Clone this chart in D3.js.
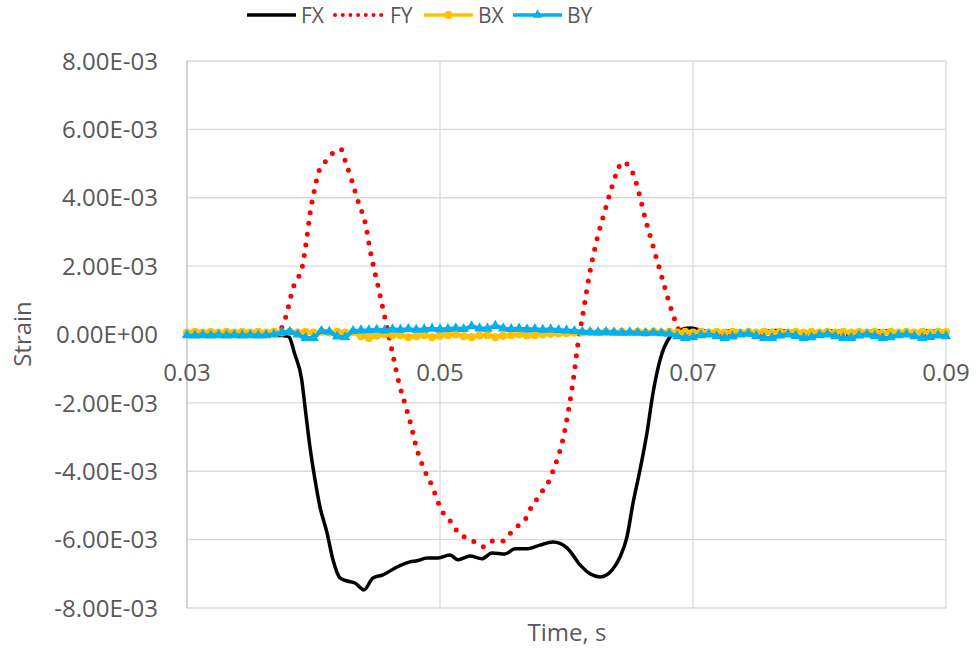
<!DOCTYPE html>
<html>
<head>
<meta charset="utf-8">
<script src="https://cdn.jsdelivr.net/npm/d3@7"></script>
<style>
  body { margin: 0; background: #fff; }
  text { font-family: "Open Sans", "Noto Sans", sans-serif; fill: #595959; }
</style>
</head>
<body>
<script>
// values are in units of 1e-3 strain (milli-strain)
var unit = 1e-3;

var xTicks = [0.03, 0.05, 0.07, 0.09];
var yTicks = [-8, -6, -4, -2, 0, 2, 4, 6, 8];

var fxT = [0.0300, 0.0340, 0.0370, 0.0380, 0.03854, 0.03907, 0.03933, 0.03972, 0.04012, 0.04051,
  0.04107, 0.04154, 0.04209, 0.04265, 0.04328, 0.04399, 0.04470, 0.04549, 0.04660, 0.04763,
  0.04818, 0.04897, 0.04976, 0.05079, 0.05142, 0.05237, 0.05332, 0.05411, 0.05514, 0.05593,
  0.05688, 0.05790, 0.05893, 0.06004, 0.06107, 0.06186, 0.06265, 0.06360, 0.06423, 0.06478,
  0.06526, 0.06581, 0.06636, 0.06684, 0.06739, 0.06818, 0.06897, 0.06976, 0.07055, 0.07174,
  0.07269, 0.0750, 0.0765, 0.0780, 0.0795, 0.0810, 0.0830, 0.0850, 0.0870, 0.0885, 0.0900];
var fxV = [0, -0.02, -0.02, -0.05, -0.6, -1.33, -2.12, -3.29, -4.25, -5.04,
  -5.80, -6.59, -7.12, -7.21, -7.27, -7.47, -7.12, -7.03, -6.80, -6.65,
  -6.62, -6.54, -6.54, -6.45, -6.59, -6.48, -6.56, -6.39, -6.42, -6.27,
  -6.27, -6.16, -6.07, -6.24, -6.74, -7.00, -7.09, -6.89, -6.51, -5.92,
  -4.93, -3.96, -2.88, -1.71, -0.75, -0.07, 0.13, 0.19, 0.13, 0.04,
  0.10, 0.06, 0.12, 0.08, 0.05, 0.10, 0.06, 0.11, 0.05, 0.10, 0.08];

var fyT = [0.0300, 0.0360, 0.0372, 0.03759, 0.03798, 0.03838, 0.03877, 0.03909, 0.03949, 0.03972,
  0.04004, 0.04043, 0.04091, 0.04146, 0.04217, 0.04249, 0.04304, 0.04352, 0.04407, 0.04455,
  0.04510, 0.04565, 0.04621, 0.04676, 0.04723, 0.04771, 0.04810, 0.04866, 0.04937, 0.05000,
  0.05040, 0.05103, 0.05142, 0.05213, 0.05292, 0.05348, 0.05419, 0.05498, 0.05561, 0.05617,
  0.05680, 0.05719, 0.05767, 0.05814, 0.05862, 0.05893, 0.05925, 0.05972, 0.06020, 0.06059,
  0.06091, 0.06123, 0.06178, 0.06249, 0.06296, 0.06344, 0.06399, 0.06439, 0.06494, 0.06534,
  0.06581, 0.06621, 0.06668, 0.06715, 0.06763, 0.06810, 0.06866, 0.06905, 0.0705, 0.0750,
  0.0800, 0.0850, 0.0900];
var fyV = [0, 0.02, 0.08, 0.28, 0.75, 1.36, 1.65, 1.94, 2.88, 3.52,
  4.17, 4.78, 5.04, 5.28, 5.42, 5.10, 4.49, 3.90, 3.29, 2.32,
  1.42, 0.48, -0.48, -1.42, -2.03, -2.65, -3.26, -3.87, -4.43, -5.04,
  -5.31, -5.54, -5.80, -5.95, -6.10, -6.21, -6.04, -6.04, -5.80, -5.60,
  -5.37, -5.07, -4.81, -4.55, -4.28, -3.99, -3.67, -3.06, -2.12, -1.18,
  -0.25, 0.45, 1.68, 2.91, 3.52, 4.14, 4.75, 5.04, 4.93, 4.63,
  4.02, 3.41, 2.79, 2.18, 1.56, 0.95, 0.34, 0.04, 0, 0,
  0, 0, 0];

// B gauges are sampled every 0.000625 s from 0.03 s
var bStart = 0.03, bStep = 0.000625;
var bxV = [0.06, 0.08, 0.06, 0.08, 0.06, 0.08, 0.06, 0.08, 0.06, 0.08,
  0.06, 0.08, 0.06, 0.08, 0.06, 0.08, 0.06, 0.08, 0.06, 0.08,
  0.06, 0.07, -0.05, -0.1, -0.04, 0.0, -0.02, -0.03, -0.08, -0.05,
  -0.02, -0.08, -0.04, -0.02, 0.0, -0.05, -0.08, -0.03, -0.02, -0.08,
  -0.04, -0.02, 0.0, -0.03, -0.02, 0.0, 0.02, 0.03, 0.04, 0.05,
  0.06, 0.07, 0.06, 0.08, 0.06, 0.08, 0.06, 0.08, 0.06, 0.08,
  0.06, 0.08, 0.06, 0.08, 0.06, 0.08, 0.06, 0.08, 0.06, 0.08,
  0.06, 0.08, 0.06, 0.08, 0.06, 0.08, 0.06, 0.08, 0.06, 0.08,
  0.06, 0.08, 0.06, 0.08, 0.06, 0.08, 0.06, 0.08, 0.06, 0.08,
  0.06, 0.08, 0.06, 0.08, 0.06, 0.08, 0.07];
var byV = [-0.02, -0.03, -0.02, -0.03, -0.02, -0.03, -0.02, -0.03, -0.02, -0.03,
  -0.02, 0.0, 0.06, 0.08, 0.0, -0.1, -0.1, 0.1, 0.08, -0.06,
  -0.08, 0.1, 0.12, 0.12, 0.14, 0.12, 0.15, 0.14, 0.16, 0.14,
  0.15, 0.17, 0.15, 0.16, 0.18, 0.16, 0.24, 0.18, 0.17, 0.25,
  0.18, 0.16, 0.17, 0.15, 0.16, 0.14, 0.15, 0.13, 0.12, 0.1,
  0.08, 0.07, 0.06, 0.07, 0.06, 0.05, 0.06, 0.05, 0.04, 0.05,
  0.04, 0.02, -0.05, -0.1, -0.08, -0.02, 0.0, -0.05, -0.1, -0.06,
  0.0, 0.02, -0.04, -0.1, -0.1, -0.03, 0.0, -0.04, -0.1, -0.08,
  -0.02, 0.0, -0.05, -0.1, -0.1, -0.03, 0.0, -0.04, -0.1, -0.08,
  -0.02, 0.0, -0.05, -0.1, -0.07, -0.03, -0.05];

var series = [
  { name: "FX", color: "#000000", t: fxT, v: fxV },
  { name: "FY", color: "#FF0000", t: fyT, v: fyV, dotted: true },
  { name: "BX", color: "#FFC000", t: bxV.map(function(d, i) { return bStart + i * bStep; }), v: bxV, marker: "circle" },
  { name: "BY", color: "#00B0F0", t: byV.map(function(d, i) { return bStart + i * bStep; }), v: byV, marker: "triangle" }
];

var width = 976, height = 651;

var svg = d3.select("body").append("svg")
    .attr("width", width)
    .attr("height", height);

var x = d3.scaleLinear().domain([0.03, 0.09]).range([187, 946]);
var y = d3.scaleLinear().domain([-8 * unit, 8 * unit]).range([608, 61]);

function sci(d) {
  var s = (d * unit).toExponential(2).split("e");
  var e = +s[1];
  return s[0] + "E" + (e < 0 ? "-" : "+") + String(Math.abs(e)).padStart(2, "0");
}

// gridlines
svg.append("g").selectAll("line")
    .data(yTicks)
  .enter().append("line")
    .attr("x1", 187).attr("x2", 946)
    .attr("y1", function(d) { return y(d * unit); })
    .attr("y2", function(d) { return y(d * unit); })
    .attr("stroke", function(d) { return d === 0 ? "#bfbfbf" : "#d9d9d9"; })
    .attr("stroke-width", 1.3);

svg.append("g").selectAll("line")
    .data(xTicks.slice(1))
  .enter().append("line")
    .attr("x1", function(d) { return x(d); })
    .attr("x2", function(d) { return x(d); })
    .attr("y1", 61).attr("y2", 608)
    .attr("stroke", "#d9d9d9")
    .attr("stroke-width", 1.3);

svg.append("line")
    .attr("x1", 187).attr("x2", 187)
    .attr("y1", 61).attr("y2", 608)
    .attr("stroke", "#bfbfbf")
    .attr("stroke-width", 1.3);

// tick labels
svg.append("g").selectAll("text")
    .data(yTicks)
  .enter().append("text")
    .attr("x", 158)
    .attr("y", function(d) { return y(d * unit); })
    .attr("dy", "0.36em")
    .attr("text-anchor", "end")
    .style("font-size", "24px")
    .text(sci);

svg.append("g").selectAll("text")
    .data(xTicks)
  .enter().append("text")
    .attr("x", function(d) { return x(d); })
    .attr("y", 372)
    .attr("dy", "0.36em")
    .attr("text-anchor", "middle")
    .style("font-size", "24px")
    .text(function(d) { return d3.format(".2f")(d); });

// axis titles
svg.append("text")
    .attr("x", 567).attr("y", 632)
    .attr("dy", "0.36em")
    .attr("text-anchor", "middle")
    .style("font-size", "24px")
    .text("Time, s");

svg.append("text")
    .attr("transform", "translate(22,334) rotate(-90)")
    .attr("dy", "0.36em")
    .attr("text-anchor", "middle")
    .style("font-size", "24px")
    .text("Strain");

// series
var line = d3.line()
    .x(function(d) { return x(d[0]); })
    .y(function(d) { return y(d[1] * unit); })
    .curve(d3.curveMonotoneX);

series.forEach(function(s) {
  var pts = s.t.map(function(t, i) { return [t, s.v[i]]; });
  var g = svg.append("g");
  var path = g.append("path")
      .datum(pts)
      .attr("d", line)
      .attr("fill", "none")
      .attr("stroke", s.color)
      .attr("stroke-linejoin", "round");
  if (s.dotted) {
    path.attr("stroke-width", 5)
        .attr("stroke-linecap", "round")
        .attr("stroke-dasharray", "0 10.8");
  } else {
    path.attr("stroke-width", s.marker ? 4 : 3.5);
  }
  if (s.marker) {
    var sym = d3.symbol()
        .type(s.marker === "circle" ? d3.symbolCircle : d3.symbolTriangle)
        .size(s.marker === "circle" ? 52 : 48);
    g.selectAll(".m")
        .data(pts)
      .enter().append("path")
        .attr("d", sym)
        .attr("transform", function(d) { return "translate(" + x(d[0]) + "," + y(d[1] * unit) + ")"; })
        .attr("fill", s.color);
  }
});

// legend
var legendX = [247, 335, 424, 513];
var legend = svg.append("g").selectAll("g")
    .data(series)
  .enter().append("g")
    .attr("transform", function(d, i) { return "translate(" + legendX[i] + ",15)"; });

legend.append("line")
    .attr("x1", 0).attr("x2", function(d) { return d.dotted ? 50 : 49; })
    .attr("stroke", function(d) { return d.color; })
    .attr("stroke-width", function(d) { return d.dotted ? 4 : 3.5; })
    .attr("stroke-linecap", function(d) { return d.dotted ? "round" : "butt"; })
    .attr("stroke-dasharray", function(d) { return d.dotted ? "0 7.7" : null; });

legend.filter(function(d) { return d.marker; }).append("path")
    .attr("d", function(d) {
      return d3.symbol().type(d.marker === "circle" ? d3.symbolCircle : d3.symbolTriangle)
        .size(d.marker === "circle" ? 50 : 40)();
    })
    .attr("transform", "translate(24.5,0)")
    .attr("fill", function(d) { return d.color; });

legend.append("text")
    .attr("x", function(d) { return d.dotted ? 55 : 54; })
    .attr("dy", "0.36em")
    .style("font-size", "21px")
    .text(function(d) { return d.name; });
</script>
</body>
</html>
